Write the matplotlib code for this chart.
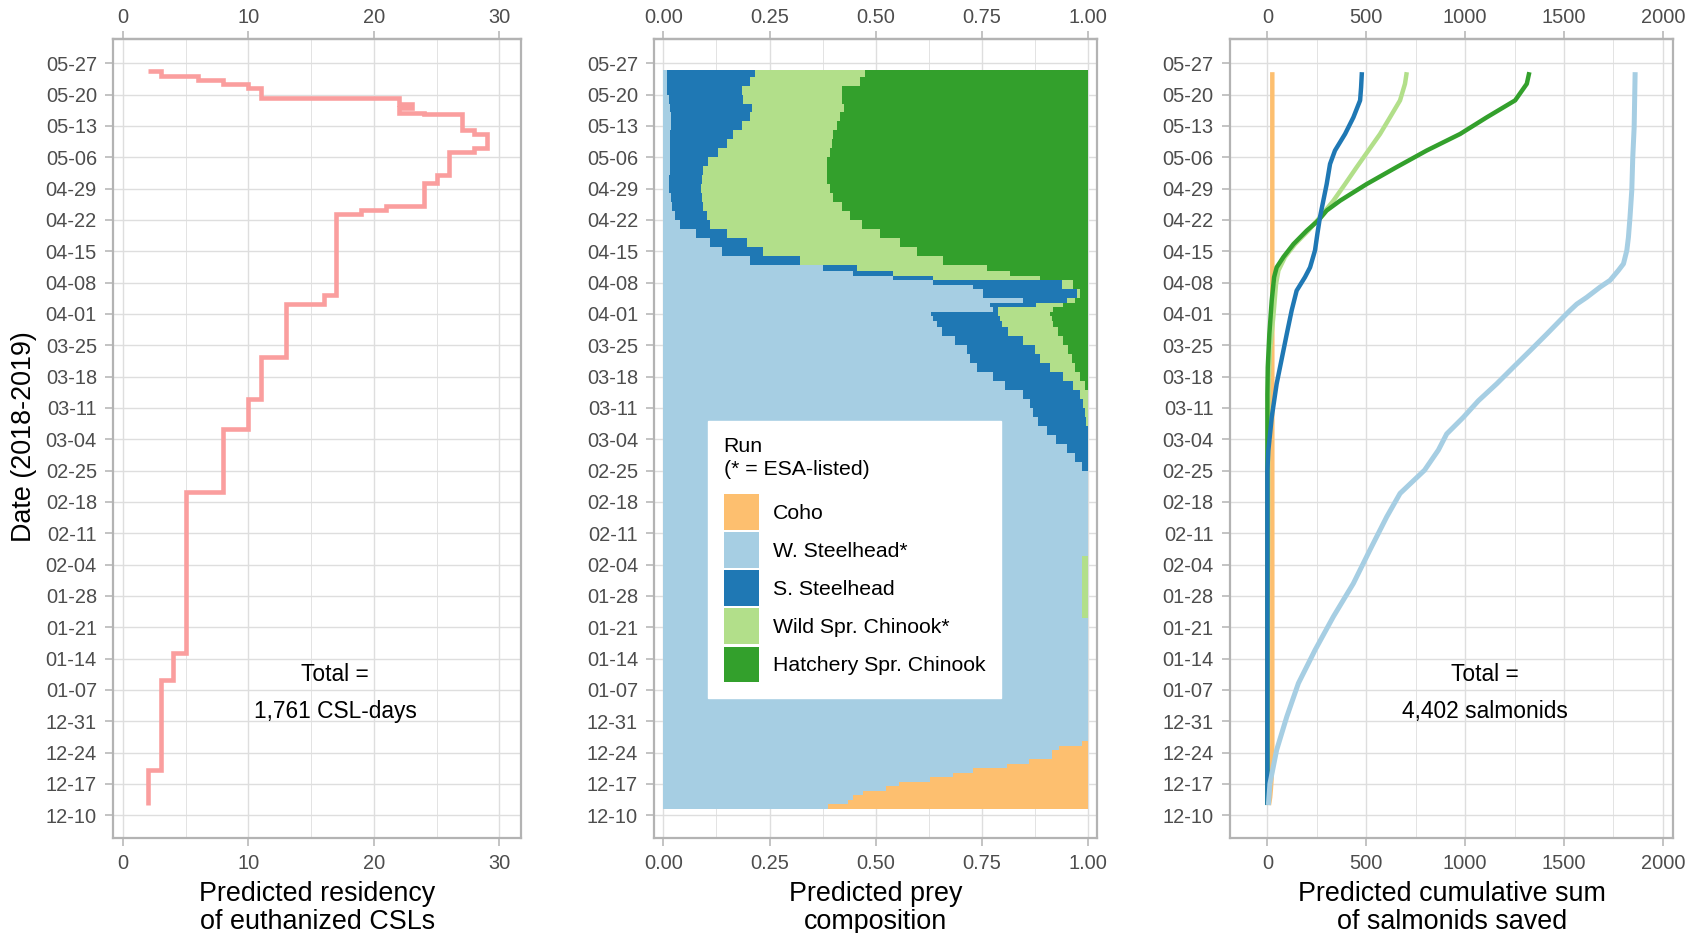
import matplotlib.pyplot as plt
from matplotlib.patches import Patch
import numpy as np
import pandas as pd

plt.rcParams['font.family'] = ['Liberation Sans', 'DejaVu Sans']

# y is days after 2018-12-10
start_date = pd.Timestamp('2018-12-10')
week_ticks = np.arange(0, 169, 7)
week_labels = [(start_date + pd.Timedelta(days=int(d))).strftime('%m-%d') for d in week_ticks]

# --- panel 1: residency of euthanized CSLs (step line)
resid_edges = [2.3, 10.1, 30.2, 36.2, 72.3, 86.2, 93.1, 102.3, 114.2, 116.2,
               134.3, 135.2, 136.1, 141.2, 143.0, 148.2, 149.0, 152.3, 153.1, 156.6,
               156.9, 157.9, 159.0, 160.3, 162.4, 163.3, 164.3, 165.2, 166.2, 166.3]
resid_count = [2, 3, 4, 5, 8, 10, 11, 13, 16, 17, 19, 21, 24, 25, 26, 28, 29, 28, 27,
               24, 22, 23, 22, 11, 10, 8, 6, 3, 2]

# --- panel 2: predicted prey composition, by day bins
prey_edges = [1.5, 2.5, 3.5, 4.5, 5.5, 6.5, 7.5, 8.5, 9.5, 10.5, 11.5, 12.5, 13.5, 14.5, 15.5, 16.5,
              44, 58,
              77, 79, 81, 83, 85, 87, 89, 91, 93, 95, 97, 99, 101, 103, 105, 107, 109,
              110.5, 111.5, 112.5, 113.5, 114.5, 115.5, 116.5, 117.5, 118.5, 119.5, 120.5, 121.5,
              123, 125, 127, 129, 131, 133, 135, 137, 139, 141, 143, 145, 147, 149, 151, 153,
              155, 157, 159, 161, 163, 165, 166.5]

w_steelhead = [.388, .435, .447, .470, .525, .555, .627, .682, .728, .808, .861, .914, .914, .932, .984,
               1, .985, 1,
               .984, .969, .949, .925, .902, .882, .871, .863, .847, .804, .776, .737, .722, .714, .686, .655,
               .643,
               .635, .631, .776, .769, .847, .753, .753, .729, .635, .541, .447,
               .376,
               .204, .137, .110, .078, .039, .027, .020, .017, .014, .014, .016, .016, .016, .016, .016,
               .017, .017, .016, .014, .009, .008,
               .008]
s_steelhead = [0] * 18 + [
               .016, .031, .051, .075, .098, .113, .121, .125, .133, .161, .165, .173, .164, .161, .161, .157,
               .153,
               .157, .157, .012, .109, .102, .220, .220, .208, .302, .094, .094,
               .079,
               .118, .098, .086, .071, .071, .075, .074, .073, .075, .076, .077, .090, .113, .133, .149,
               .167, .187, .192, .174, .175, .196,
               .208]
wild_chinook = [0] * 15 + [0, .015, 0] + [
               0, 0, 0, 0, 0, .005, .008, .012, .020, .027, .039, .059, .075, .078, .094, .117,
               .122,
               .122, .122, .130, .063, .020, .007, .007, .028, .028, .251, .275,
               .306,
               .337, .361, .361, .361, .357, .337, .326, .310, .303, .294, .291, .278, .263, .247, .235,
               .224, .212, .216, .232, .236, .259,
               .259]
hatch_chinook = [0] * 18 + [
               0, 0, 0, 0, 0, 0, 0, 0, 0, .008, .020, .031, .039, .047, .059, .071,
               .082,
               .086, .090, .082, .059, .031, .020, .020, .035, .035, .114, .184,
               .239,
               .341, .404, .443, .490, .533, .561, .580, .600, .608, .616, .616, .616, .608, .604, .600,
               .592, .584, .576, .580, .580, .537,
               .525]
coho = [.612, .565, .553, .530, .475, .445, .373, .318, .272, .192, .139, .086, .086, .068, .016] + [0] * 54

# --- panel 3: cumulative salmonids saved
coho_days = [2.3, 4, 6, 8, 10, 13, 16, 166]
coho_cum = [8, 14, 18, 21, 23, 24, 25, 25]
wst_days = [2.3, 7.1, 14.6, 22.0, 29.5, 36.9, 44.4, 51.8, 59.3, 66.7, 71.9, 77.1, 81.6, 85.2, 88.9,
            92.6, 96.4, 100.1, 103.8, 107.5, 111.3, 112.8, 114.2, 115.7, 118.0, 119.5, 121.7, 123.2,
            126.2, 129.1, 133.6, 139.6, 147.0, 153.7, 166.0]
wst_cum = [5, 13, 47, 98, 157, 241, 334, 435, 519, 604, 671, 795, 865, 907, 991,
           1067, 1160, 1244, 1329, 1413, 1497, 1531, 1565, 1615, 1683, 1733, 1775, 1801,
           1818, 1826, 1834, 1843, 1848, 1855, 1860]
sst_days = [2.3, 77.0, 81.5, 88.9, 96.4, 103.8, 107.5, 112.8, 117.2, 120.2, 122.4, 126.2, 129.9,
            133.6, 137.3, 141.0, 145.5, 148.5, 152.2, 155.9, 159.7, 162.6, 166.0]
sst_cum = [0, 0, 5, 22, 47, 81, 98, 123, 148, 190, 216, 241, 253,
           266, 283, 300, 317, 342, 393, 435, 469, 474, 478]
wild_days = [2.3, 44, 58, 88.9, 96.4, 103.8, 111.3, 118.7, 121.7, 124.7, 127.6, 130.6, 133.6,
             137.3, 141.0, 144.8, 148.5, 152.2, 155.9, 159.7, 163.4, 166.0]
wild_cum = [0, 0, 3, 4, 6, 13, 30, 44, 56, 89, 140, 207, 266,
            334, 393, 452, 511, 570, 620, 671, 696, 705]
hatch_days = [2.3, 94, 100.1, 107.5, 115.0, 120.2, 122.4, 124.7, 127.6, 130.6, 132.9, 135.1, 137.3,
              141.0, 144.8, 148.5, 152.2, 155.9, 159.7, 163.4, 166.0]
hatch_cum = [0, 0, 2, 10, 22, 34, 47, 81, 132, 199, 258, 300, 368,
             502, 654, 806, 975, 1109, 1253, 1312, 1325]

run_names = ['Coho', 'W. Steelhead*', 'S. Steelhead', 'Wild Spr. Chinook*', 'Hatchery Spr. Chinook']
run_colors = ['#FDBF6F', '#A6CEE3', '#1F78B4', '#B2DF8A', '#33A02C']

W, H = 1699, 933
fig = plt.figure(figsize=(W / 100, H / 100), dpi=100)
bottom, height = 1 - 837.7 / H, 799.1 / H
ax1 = fig.add_axes([112.9 / W, bottom, 408.5 / W, height])
ax2 = fig.add_axes([654.0 / W, bottom, 442.8 / W, height])
ax3 = fig.add_axes([1229.8 / W, bottom, 443.7 / W, height])

tick_col = '#4D4D4D'
grid_col = '#DEDEDE'
edge_col = '#B3B3B3'


def style_axes(ax, xlim, major, minor, labels):
    ax.set_xlim(*xlim)
    ax.set_ylim(-5, 173.5)
    ax.set_xticks(major)
    ax.set_xticklabels(labels)
    ax.set_xticks(minor, minor=True)
    ax.set_yticks(week_ticks)
    ax.set_yticklabels(week_labels)
    ax.grid(True, which='major', color=grid_col, linewidth=1.0)
    ax.grid(True, which='minor', axis='x', color=grid_col, linewidth=0.6)
    ax.set_axisbelow(True)
    ax.tick_params(axis='both', which='major', labelsize=14.4, labelcolor=tick_col,
                   color=edge_col, length=5.5, width=1.1)
    ax.tick_params(axis='x', which='major', pad=6.2)
    ax.tick_params(axis='y', which='major', pad=6)
    ax.tick_params(which='minor', length=0)
    for s in ax.spines.values():
        s.set_color(edge_col)
        s.set_linewidth(1.6)
    # duplicated x axis on top
    sec = ax.secondary_xaxis('top')
    sec.set_xticks(major)
    sec.set_xticklabels(labels)
    sec.tick_params(labelsize=14.4, labelcolor=tick_col, color=edge_col,
                    length=5.5, width=1.1, pad=3)
    sec.spines['top'].set_color(edge_col)
    sec.spines['top'].set_linewidth(1.6)


# panel 1
style_axes(ax1, (-0.81, 31.76), [0, 10, 20, 30], [5, 15, 25], ['0', '10', '20', '30'])
ax1.stairs(resid_count, resid_edges, orientation='horizontal', baseline=None,
           color='#FA9E9E', linewidth=3.3)
ax1.text(16.9, 27.3, 'Total =\n1,761 CSL-days', ha='center', va='center',
         fontsize=16.4, linespacing=1.75)
ax1.set_xlabel('Predicted residency\nof euthanized CSLs', fontsize=19.4, linespacing=1.1, labelpad=6)

# panel 2: stacked composition; order left to right
style_axes(ax2, (-0.0219, 1.020), [0, 0.25, 0.5, 0.75, 1.0], [0.125, 0.375, 0.625, 0.875],
           ['0.00', '0.25', '0.50', '0.75', '1.00'])
edges = np.array(prey_edges)
stack = np.array([w_steelhead, s_steelhead, wild_chinook, hatch_chinook, coho], dtype=float)
stack_cols = [run_colors[1], run_colors[2], run_colors[3], run_colors[4], run_colors[0]]
cum = np.cumsum(stack, axis=0)
for k in range(len(stack) - 1, -1, -1):
    right = np.append(cum[k], cum[k][-1])
    ax2.fill_betweenx(edges, 0, right, step='post', color=stack_cols[k], linewidth=0)
ax2.set_xlabel('Predicted prey\ncomposition', fontsize=19.4, linespacing=1.1, labelpad=6)
handles = [Patch(facecolor=c, edgecolor='none') for c in run_colors]
leg = ax2.legend(handles, run_names, title='Run\n(* = ESA-listed)', loc='upper left',
                 bbox_to_anchor=(0.121, 0.522), borderaxespad=0, fontsize=15.3,
                 title_fontsize=15.3, alignment='left', frameon=True, fancybox=False,
                 handlelength=1.68, handleheight=2.21, labelspacing=0.11,
                 handletextpad=0.64, borderpad=0.75)
leg.get_frame().set_facecolor('white')
leg.get_frame().set_edgecolor('white')
leg.get_frame().set_alpha(1)
leg.get_title().set_linespacing(1.3)
leg._legend_box.sep = 11

# panel 3
style_axes(ax3, (-190, 2054), [0, 500, 1000, 1500, 2000], [250, 750, 1250, 1750],
           ['0', '500', '1000', '1500', '2000'])
ax3.plot(coho_cum, coho_days, color=run_colors[0], linewidth=3.2, solid_capstyle='butt')
ax3.plot(wild_cum, wild_days, color=run_colors[3], linewidth=3.2, solid_capstyle='butt')
ax3.plot(hatch_cum, hatch_days, color=run_colors[4], linewidth=3.2, solid_capstyle='butt')
ax3.plot(sst_cum, sst_days, color=run_colors[2], linewidth=3.2, solid_capstyle='butt')
ax3.plot(wst_cum, wst_days, color=run_colors[1], linewidth=3.6, solid_capstyle='butt')
ax3.text(1099, 27.3, 'Total =\n4,402 salmonids', ha='center', va='center',
         fontsize=16.4, linespacing=1.75)
ax3.set_xlabel('Predicted cumulative sum\nof salmonids saved', fontsize=19.4, linespacing=1.1, labelpad=6)

fig.text(24 / W, 1 - 437 / H, 'Date (2018-2019)', rotation=90, ha='center', va='center',
         fontsize=19.4)

fig.savefig('out.png', dpi=100, facecolor='white')
